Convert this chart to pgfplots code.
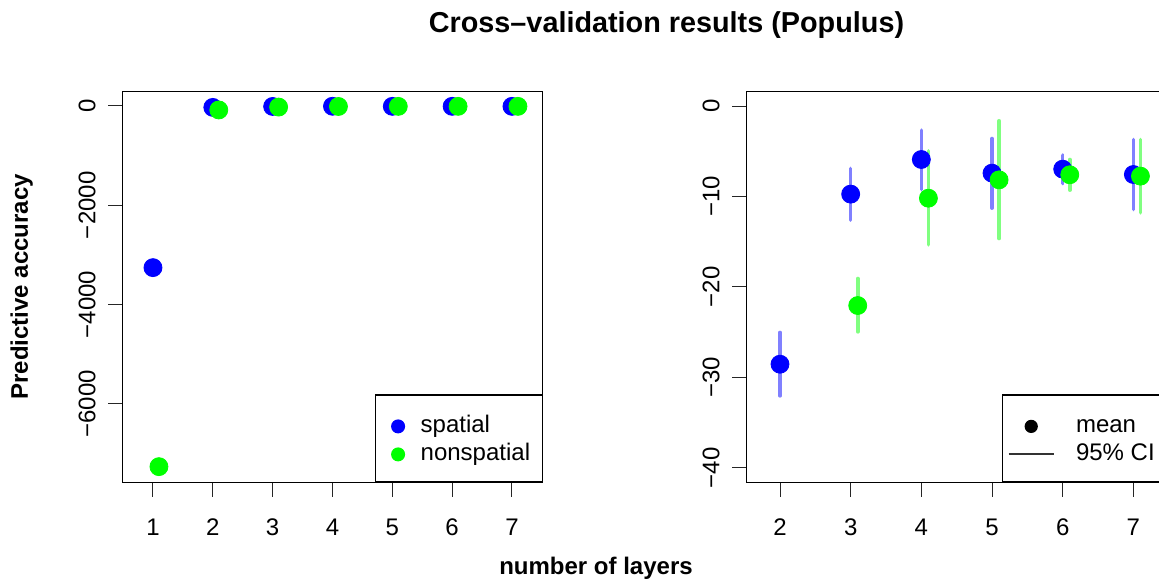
\documentclass[border=0pt]{standalone}
\usepackage{fontspec}
\setmainfont{Liberation Sans}
\usepackage{pgfplots}
\pgfplotsset{compat=1.18}
\usepackage{pgfplotstable}
\definecolor{blueCI}{RGB}{128,128,255}
\definecolor{greenCI}{RGB}{128,255,128}

\pgfplotstableread{
x y
1 -3255
2 -28.5
3 -9.7
4 -5.9
5 -7.4
6 -7.0
7 -7.6
}\spatialL
\pgfplotstableread{
x y
1.1 -7262
2.1 -80
3.1 -22.0
4.1 -10.2
5.1 -8.2
6.1 -7.6
7.1 -7.7
}\nonspatialL
\pgfplotstableread{
x y ep em
2 -28.54 3.51 3.50
3 -9.73 2.84 2.88
4 -5.90 3.25 3.32
5 -7.41 3.83 3.87
6 -6.97 1.55 1.58
7 -7.56 3.87 3.87
}\spatialR
\pgfplotstableread{
x y ep em
3.1 -22.05 2.99 2.91
4.1 -10.18 5.24 5.16
5.1 -8.15 6.53 6.49
6.1 -7.59 1.69 1.70
7.1 -7.74 4.05 4.06
}\nonspatialR

\pgfplotsset{
  rpanel/.style={
    scale only axis, width=210pt, height=195.3pt,
    anchor=south west,
    axis line style={line width=0.6pt},
    tick align=outside, tick pos=left,
    major tick length=7.25pt,
    tick style={black!85, line width=0.5pt},
    ticklabel style={font=\fontsize{12}{14}\selectfont},
    xticklabel style={anchor=north, inner sep=0pt, yshift=-10.65pt},
    yticklabel style={xshift=-6.05pt, rotate=90, anchor=south, inner sep=0pt},
    /pgf/number format/assume math mode=true,
    legend style={at={(1,0)}, anchor=south east, draw=black, line width=0.6pt,
      inner xsep=0pt, inner ysep=7.65pt, row sep=2pt, column sep=0pt,
      font=\fontsize{12}{14}\selectfont,
      nodes={inner sep=0pt, text height=9pt, text depth=3pt},
      cells={anchor=west}},
  },
}

\begin{document}
\begin{tikzpicture}
\useasboundingbox (0,0) rectangle (579.5pt,290.5pt);
\clip (0,0) rectangle (579.5pt,290.5pt);

% left panel
\begin{axis}[rpanel, at={(61.35pt,49.35pt)},
  xmin=0.494, xmax=7.514, ymin=-7577, ymax=288,
  xtick={1,2,3,4,5,6,7}, xticklabels={1,2,3,4,5,6,7},
  ytick={-6000,-4000,-2000,0},
  yticklabels={−6000,−4000,−2000,0}]
\addplot[forget plot, only marks, mark=*, mark size=4.5pt, color=blue, mark options={draw=blue, fill=blue}] table[x=x,y=y] {\spatialL};
\addplot[forget plot, only marks, mark=*, mark size=4.5pt, color=green, mark options={draw=green, fill=green}] table[x=x,y=y] {\nonspatialL};
\addlegendimage{legend image code/.code={\path (-11pt,0) (11pt,0) (0,7.75pt); \fill[blue] (0,0) circle (3.2pt);}}
\addlegendentry{spatial}
\addlegendimage{legend image code/.code={\path (-11pt,0) (11pt,0); \fill[green] (0,0) circle (3.2pt);}}
\addlegendentry{nonspatial\hspace*{6pt}}
\end{axis}

% right panel
\begin{axis}[rpanel, at={(373.35pt,49.35pt)},
  xmin=1.529, xmax=7.472, ymin=-41.6, ymax=1.6,
  xtick={2,3,4,5,6,7}, xticklabels={2,3,4,5,6,7},
  ytick={-40,-30,-20,-10,0},
  yticklabels={−40,−30,−20,−10,0}]
\addplot[forget plot, only marks, mark=none,
  error bars/.cd, y dir=both, y explicit, error mark=none,
  error bar style={draw=blueCI, line width=1.8pt, line cap=round}]
  table[x=x, y=y, y error plus=ep, y error minus=em] {\spatialR};
\addplot[forget plot, only marks, mark=*, mark size=4.5pt, color=blue, mark options={draw=blue, fill=blue}] table[x=x,y=y] {\spatialR};
\addplot[forget plot, only marks, mark=none,
  error bars/.cd, y dir=both, y explicit, error mark=none,
  error bar style={draw=greenCI, line width=1.8pt, line cap=round}]
  table[x=x, y=y, y error plus=ep, y error minus=em] {\nonspatialR};
\addplot[forget plot, only marks, mark=*, mark size=4.5pt, color=green, mark options={draw=green, fill=green}] table[x=x,y=y] {\nonspatialR};
\addlegendimage{legend image code/.code={\path (-14.25pt,0) (22.1pt,0) (0,7.75pt); \fill[black] (0,0) circle (3pt);}}
\addlegendentry{mean}
\addlegendimage{legend image code/.code={\path (-14.25pt,0) (22.1pt,0); \draw[black!80, line width=0.9pt] (-11.25pt,0) -- (11.25pt,0);}}
\addlegendentry{95\% CI\hspace*{5.7pt}}
\end{axis}

\node[font=\bfseries\fontsize{14.4}{17}\selectfont] at (333.25pt,278pt) {Cross–validation results (Populus)};
\node[font=\bfseries\fontsize{12}{14}\selectfont] at (298pt,6.5pt) {number of layers};
\node[rotate=90, font=\bfseries\fontsize{12}{14}\selectfont] at (10.85pt,147.15pt) {Predictive accuracy};
\end{tikzpicture}
\end{document}
